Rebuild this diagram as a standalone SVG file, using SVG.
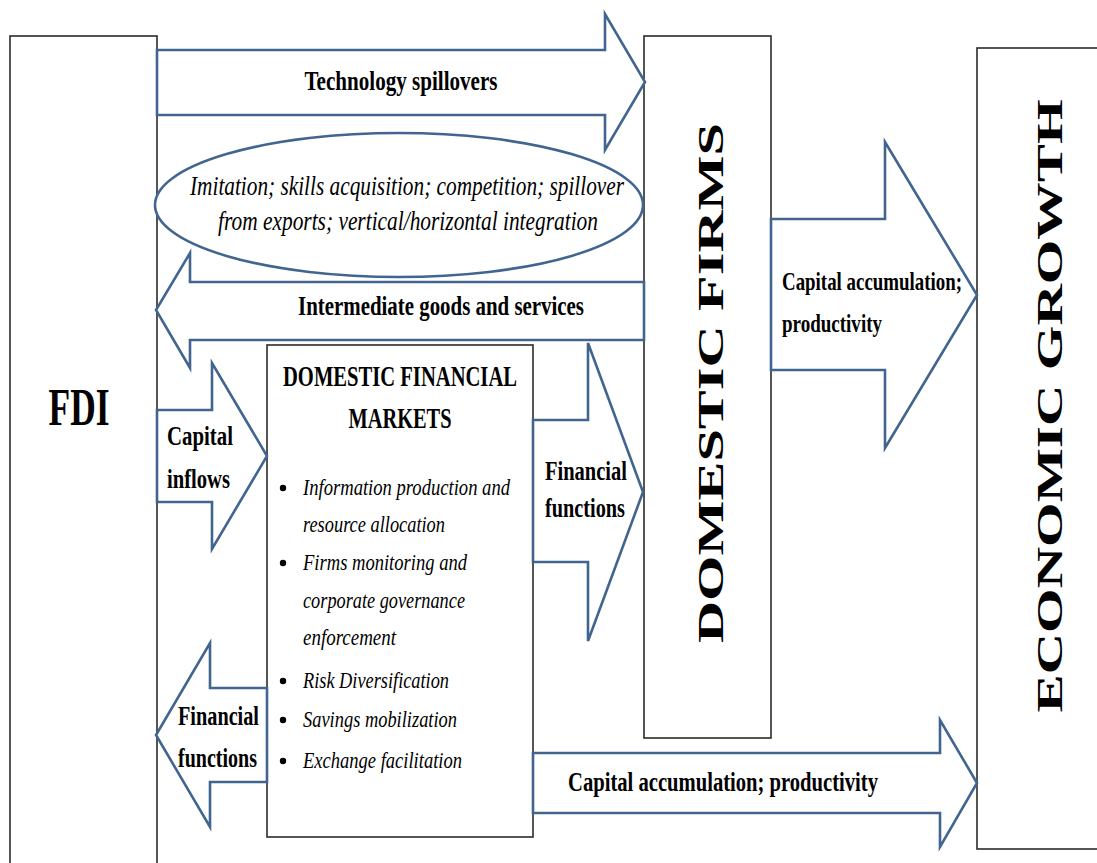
<svg xmlns="http://www.w3.org/2000/svg" width="1097" height="863" viewBox="0 0 1097 863">
<style>
.box{fill:#fff;stroke:#2b2b2b;stroke-width:1.6}
.arr{fill:#fff;stroke:#41658f;stroke-width:2.6;stroke-linejoin:miter}
.lb{font-family:"Liberation Serif","Times New Roman",serif;font-weight:bold;fill:#000}
.it{font-family:"Liberation Serif","Times New Roman",serif;font-style:italic;fill:#000}
.bul{font-family:"Liberation Serif","Times New Roman",serif;font-style:italic;font-size:24px;fill:#000}
.dot{fill:#000}
</style>
<rect width="1097" height="863" fill="#fff"/>
<g id="fdi">
<rect class="box" x="10" y="36" width="147" height="840"/>
<text class="lb" x="79" y="425" font-size="52" text-anchor="middle" textLength="61" lengthAdjust="spacingAndGlyphs">FDI</text>
</g>
<g id="domestic-firms">
<rect class="box" x="644" y="36" width="127" height="702"/>
<text class="lb" x="723" y="383" font-size="35" text-anchor="middle" textLength="520" lengthAdjust="spacingAndGlyphs" transform="rotate(-90 723 383)">DOMESTIC FIRMS</text>
</g>
<g id="economic-growth">
<rect class="box" x="977" y="48" width="130" height="801"/>
<text class="lb" x="1062" y="406" font-size="36" text-anchor="middle" textLength="613" lengthAdjust="spacingAndGlyphs" transform="rotate(-90 1062 406)">ECONOMIC GROWTH</text>
</g>
<g id="domestic-financial-markets">
<rect class="box" x="267" y="345" width="266" height="492"/>
<text class="lb" x="400" y="386" font-size="29" text-anchor="middle" textLength="234" lengthAdjust="spacingAndGlyphs">DOMESTIC FINANCIAL</text>
<text class="lb" x="400" y="428" font-size="29" text-anchor="middle" textLength="103" lengthAdjust="spacingAndGlyphs">MARKETS</text>
<circle class="dot" cx="283" cy="488" r="3.2"/>
<text class="bul" x="303" y="495" textLength="207" lengthAdjust="spacingAndGlyphs">Information production and</text>
<text class="bul" x="303" y="532" textLength="142" lengthAdjust="spacingAndGlyphs">resource allocation</text>
<circle class="dot" cx="283" cy="563" r="3.2"/>
<text class="bul" x="303" y="570" textLength="164" lengthAdjust="spacingAndGlyphs">Firms monitoring and</text>
<text class="bul" x="303" y="608" textLength="162" lengthAdjust="spacingAndGlyphs">corporate governance</text>
<text class="bul" x="303" y="645" textLength="93" lengthAdjust="spacingAndGlyphs">enforcement</text>
<circle class="dot" cx="283" cy="681" r="3.2"/>
<text class="bul" x="303" y="688" textLength="146" lengthAdjust="spacingAndGlyphs">Risk Diversification</text>
<circle class="dot" cx="283" cy="720" r="3.2"/>
<text class="bul" x="303" y="727" textLength="154" lengthAdjust="spacingAndGlyphs">Savings mobilization</text>
<circle class="dot" cx="283" cy="761" r="3.2"/>
<text class="bul" x="303" y="768" textLength="159" lengthAdjust="spacingAndGlyphs">Exchange facilitation</text>
</g>
<g id="spillover-channels">
<ellipse cx="399" cy="205" rx="244" ry="72" fill="#fff" stroke="#41658f" stroke-width="2.6"/>
<text class="it" x="407" y="195" font-size="28" text-anchor="middle" textLength="434" lengthAdjust="spacingAndGlyphs">Imitation; skills acquisition; competition; spillover</text>
<text class="it" x="408" y="230" font-size="28" text-anchor="middle" textLength="380" lengthAdjust="spacingAndGlyphs">from exports; vertical/horizontal integration</text>
</g>
<g id="connectors">
<path class="arr" d="M157,50 H605 V14 L645,82 L605,150 V115 H157 Z"/>
<text class="lb" x="401" y="90" font-size="27" text-anchor="middle" textLength="193" lengthAdjust="spacingAndGlyphs">Technology spillovers</text>
<path class="arr" d="M644,282 H190 V253 L156,310 L190,368 V340 H644 Z"/>
<text class="lb" x="441" y="315" font-size="27" text-anchor="middle" textLength="286" lengthAdjust="spacingAndGlyphs">Intermediate goods and services</text>
<path class="arr" d="M157,410 H212 V363 L267,456 L212,549 V502 H157 Z"/>
<text class="lb" x="167" y="445" font-size="27" textLength="66" lengthAdjust="spacingAndGlyphs">Capital</text>
<text class="lb" x="167" y="488" font-size="27" textLength="63" lengthAdjust="spacingAndGlyphs">inflows</text>
<path class="arr" d="M533,420 H588 V343 L643,492 L588,641 V562 H533 Z"/>
<text class="lb" x="545" y="480" font-size="27" textLength="82" lengthAdjust="spacingAndGlyphs">Financial</text>
<text class="lb" x="545" y="517" font-size="27" textLength="80" lengthAdjust="spacingAndGlyphs">functions</text>
<path class="arr" d="M267,688 H210 V643 L156,735 L210,827 V782 H267 Z"/>
<text class="lb" x="178" y="725" font-size="27" textLength="81" lengthAdjust="spacingAndGlyphs">Financial</text>
<text class="lb" x="178" y="767" font-size="27" textLength="79" lengthAdjust="spacingAndGlyphs">functions</text>
<path class="arr" d="M771,219 H885 V142 L977,295 L885,448 V370 H771 Z"/>
<text class="lb" x="782" y="290" font-size="25" textLength="180" lengthAdjust="spacingAndGlyphs">Capital accumulation;</text>
<text class="lb" x="782" y="332" font-size="25" textLength="100" lengthAdjust="spacingAndGlyphs">productivity</text>
<path class="arr" d="M533,753 H940 V720 L977,783 L940,847 V813 H533 Z"/>
<text class="lb" x="568" y="791" font-size="27" textLength="310" lengthAdjust="spacingAndGlyphs">Capital accumulation; productivity</text>
</g>
</svg>
